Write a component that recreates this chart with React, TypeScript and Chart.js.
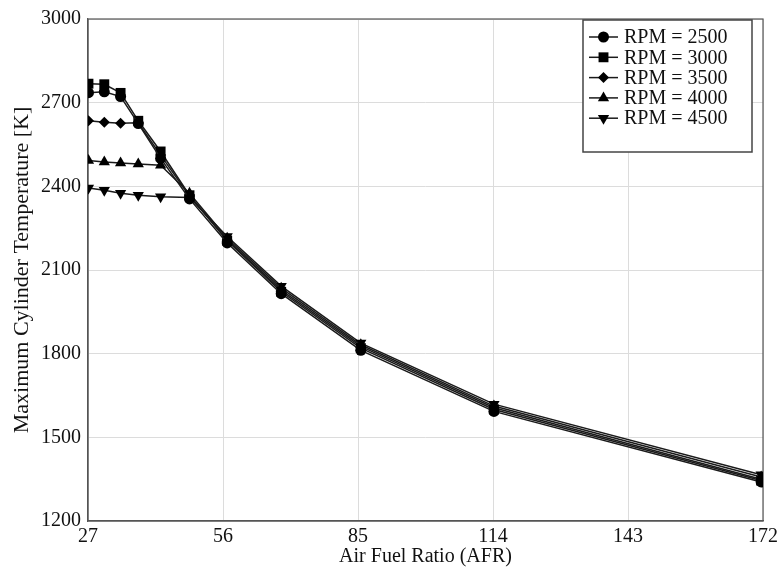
import React, { useEffect, useRef } from "react";
import { Chart, registerables } from "chart.js";
import { drawPoint } from "chart.js/helpers";

Chart.register(...registerables);

const afr = [27.1, 30.5, 34.0, 37.8, 42.6, 48.8, 56.9, 68.5, 85.6, 114.2, 171.6];
const seriesLabels = ["RPM = 2500", "RPM = 3000", "RPM = 3500", "RPM = 4000", "RPM = 4500"];
const rpm2500 = [2736, 2739, 2722, 2625, 2500, 2355, 2197, 2015, 1812, 1593, 1340];
const rpm3000 = [2768, 2766, 2735, 2635, 2525, 2368, 2205, 2022, 1820, 1600, 1345];
const rpm3500 = [2635, 2630, 2626, 2628, 2512, 2365, 2208, 2028, 1826, 1606, 1350];
const rpm4000 = [2493, 2487, 2484, 2480, 2476, 2375, 2214, 2035, 1832, 1612, 1358];
const rpm4500 = [2394, 2386, 2375, 2368, 2363, 2360, 2220, 2042, 1838, 1619, 1366];
const xTicks = [27, 56, 85, 114, 143, 172];
const yTicks = [1200, 1500, 1800, 2100, 2400, 2700, 3000];

const allSeries = [rpm2500, rpm3000, rpm3500, rpm4000, rpm4500];
const pointStyles = ["circle", "rect", "rectRot", "triangle", "triangle"];
const rotations = [0, 0, 0, 0, 180];
const radii = [5.5, 7, 5.5, 6.5, 6.5];

const FONT = "'Liberation Serif', 'Times New Roman', serif";
const LINE = "#1a1a1a";

const framePlugin = {
  id: "frame",
  beforeDatasetsDraw(chart: any) {
    const { ctx, chartArea } = chart;
    ctx.save();
    ctx.strokeStyle = "#555";
    ctx.lineWidth = 1.2;
    ctx.strokeRect(chartArea.left, chartArea.top, chartArea.right - chartArea.left, chartArea.bottom - chartArea.top);
    ctx.restore();
  },
};

const legendPlugin = {
  id: "boxLegend",
  afterDraw(chart: any) {
    const { ctx } = chart;
    const bx = 583, by = 20, bw = 169, bh = 132;
    ctx.save();
    ctx.fillStyle = "#fff";
    ctx.fillRect(bx, by, bw, bh);
    ctx.strokeStyle = "#444";
    ctx.lineWidth = 1.5;
    ctx.strokeRect(bx, by, bw, bh);
    ctx.font = `20px ${FONT}`;
    ctx.textBaseline = "middle";
    ctx.textAlign = "left";
    chart.data.datasets.forEach((ds: any, i: number) => {
      const y = 37 + i * 20.3;
      ctx.strokeStyle = LINE;
      ctx.lineWidth = 1.5;
      ctx.beginPath();
      ctx.moveTo(589, y);
      ctx.lineTo(618, y);
      ctx.stroke();
      ctx.fillStyle = "#000";
      ctx.strokeStyle = "#000";
      drawPoint(ctx, { pointStyle: pointStyles[i], rotation: rotations[i], radius: radii[i], borderWidth: 0 } as any, 603.5, y);
      ctx.fillStyle = "#111";
      ctx.fillText(ds.label, 624, y + 1);
    });
    ctx.restore();
  },
};

export default function App() {
  const ref = useRef<HTMLCanvasElement | null>(null);
  useEffect(() => {
    document.body.style.margin = "0";
    const canvas = ref.current!;
    const chart = new Chart(canvas, {
      type: "line",
      data: {
        datasets: allSeries.map((s, i) => ({
          label: seriesLabels[i],
          data: s.map((v, j) => ({ x: afr[j], y: v })),
          borderColor: LINE,
          borderWidth: 1.5,
          backgroundColor: "#000",
          pointBackgroundColor: "#000",
          pointBorderColor: "#000",
          pointBorderWidth: 0,
          pointStyle: pointStyles[i] as any,
          rotation: rotations[i],
          pointRadius: radii[i],
          tension: 0,
          fill: false,
        })),
      },
      options: {
        responsive: false,
        animation: false,
        layout: { padding: { top: 16, right: 16, left: 0, bottom: 0 } },
        plugins: {
          legend: { display: false },
          tooltip: { enabled: false },
        },
        scales: {
          x: {
            type: "linear",
            min: 27,
            max: 172,
            afterBuildTicks: (scale: any) => {
              scale.ticks = xTicks.map((v) => ({ value: v }));
            },
            afterFit: (scale: any) => {
              scale.height = 48;
            },
            grid: { color: "#dcdcdc", lineWidth: 1, drawTicks: false },
            border: { display: true, color: "#555", width: 1.2 },
            ticks: {
              color: "#111",
              font: { family: FONT, size: 20 },
              padding: 4,
              maxRotation: 0,
              autoSkip: false,
              callback: (v: any) => String(v),
            },
            title: {
              display: true,
              text: "Air Fuel Ratio (AFR)",
              color: "#111",
              font: { family: FONT, size: 20 },
              padding: { top: 0, bottom: 0 },
            },
          },
          y: {
            type: "linear",
            min: 1200,
            max: 3000,
            afterBuildTicks: (scale: any) => {
              scale.ticks = yTicks.map((v) => ({ value: v }));
            },
            afterFit: (scale: any) => {
              scale.width = 88;
            },
            grid: { color: "#dcdcdc", lineWidth: 1, drawTicks: false },
            border: { display: true, color: "#555", width: 1.2 },
            ticks: {
              color: "#111",
              font: { family: FONT, size: 20 },
              padding: 7,
              autoSkip: false,
              callback: (v: any) => String(v),
            },
            title: {
              display: true,
              text: "Maximum Cylinder Temperature [K]",
              color: "#111",
              font: { family: FONT, size: 22 },
              padding: { top: 9, bottom: 0 },
            },
          },
        },
      },
      plugins: [framePlugin, legendPlugin],
    });
    return () => chart.destroy();
  }, []);
  return (
    <div style={{ width: 782, height: 569 }}>
      <canvas ref={ref} width={782} height={569} style={{ display: "block" }} />
    </div>
  );
}
